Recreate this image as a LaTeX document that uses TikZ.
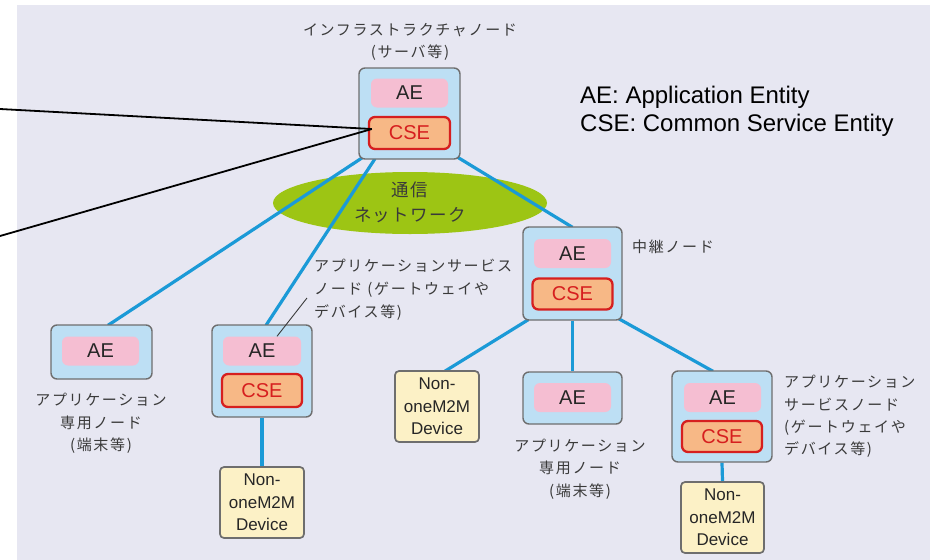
\documentclass[tikz,border=0pt]{standalone}
\usepackage{fontspec}
\setmainfont{Liberation Sans}
\newfontfamily\jp[LetterSpace=11]{Noto Sans CJK JP}
\newfontfamily\jpnet[LetterSpace=8]{Noto Sans CJK JP}
\usetikzlibrary{calc}
\definecolor{bglav}{HTML}{E7E7F2}
\definecolor{boxblue}{HTML}{BDDFF4}
\definecolor{boxgray}{HTML}{6E6E6E}
\definecolor{aepink}{HTML}{F5BED2}
\definecolor{cseorange}{HTML}{F7B886}
\definecolor{csered}{HTML}{D61F1F}
\definecolor{devyellow}{HTML}{FCF1C6}
\definecolor{linkblue}{HTML}{1B9AD7}
\definecolor{netgreen}{HTML}{9DC514}
\definecolor{jpgray}{HTML}{3A3A3A}
\pgfdeclarelayer{back}
\pgfdeclarelayer{wires}
\pgfsetlayers{back,wires,main}
\tikzset{
  nodebox/.style={draw=boxgray, fill=boxblue, line width=1.4pt, rounded corners=6pt, inner sep=0pt},
  aebox/.style={fill=aepink, rounded corners=6pt, inner sep=0pt, minimum width=77pt, minimum height=29pt,
    font=\fontsize{20}{22}\selectfont, text=black!85},
  csebox/.style={draw=csered, fill=cseorange, line width=2.3pt, rounded corners=6pt, inner sep=0pt,
    minimum width=80pt, minimum height=31pt, font=\fontsize{20}{22}\selectfont, text=csered},
  devbox/.style={draw=boxgray, fill=devyellow, line width=1.7pt, rounded corners=4pt, inner sep=0pt,
    minimum width=83pt, minimum height=71pt, align=center, font=\fontsize{17}{22.5}\selectfont, text=black!85},
  link/.style={draw=linkblue, line width=3.2pt},
  jplabel/.style={font=\jp\fontsize{15}{22.5}\selectfont, text=jpgray, inner sep=0pt},
  pointer/.style={draw=black, line width=1.8pt},
}
\begin{document}
\begin{tikzpicture}[x=1pt, y=-1pt]
\useasboundingbox (0,0) rectangle (930,560);
\begin{pgfonlayer}{back}
  \fill[bglav] (17,5) rectangle (930,560);
  \fill[netgreen] (410,203) ellipse [x radius=137, y radius=31];
\end{pgfonlayer}

% infrastructure node
\node[nodebox, minimum width=101pt, minimum height=91pt] (infra) at (409.5,113.5) {};
\node[aebox] (infraAE) at (409.5,93) {AE};
\node[csebox, minimum width=81pt, minimum height=32pt] (infraCSE) at (409.5,133) {CSE};

% relay node
\node[nodebox, minimum width=99pt, minimum height=93pt] (relay) at (572.5,273.5) {};
\node[aebox] (relayAE) at (572.5,253.5) {AE};
\node[csebox] (relayCSE) at (572.5,294) {CSE};

% left application dedicated node
\node[nodebox, minimum width=101pt, minimum height=54pt] (ae1) at (101.5,352) {};
\node[aebox] (ae1AE) at (100.5,351) {AE};

% left gateway node
\node[nodebox, minimum width=100pt, minimum height=92pt] (lgw) at (262,371) {};
\node[aebox, minimum width=78pt] (lgwAE) at (262,351) {AE};
\node[csebox, minimum height=33pt] (lgwCSE) at (262,390.5) {CSE};
\node[devbox, minimum width=84pt] (dev1) at (262,502.5) {Non-\\oneM2M\\Device};

% relay children
\node[devbox, minimum width=84pt] (dev2) at (437,406.5) {Non-\\oneM2M\\Device};
\node[nodebox, minimum width=99pt, minimum height=52pt] (mae) at (572.5,398) {};
\node[aebox] (maeAE) at (572.5,397.5) {AE};
\node[nodebox, minimum width=100pt, minimum height=91pt] (rgw) at (722,416.5) {};
\node[aebox] (rgwAE) at (722.5,397.5) {AE};
\node[csebox] (rgwCSE) at (722,436.5) {CSE};
\node[devbox] (dev3) at (722.5,517.5) {Non-\\oneM2M\\Device};

% connectors
\begin{pgfonlayer}{wires}
  \draw[link] ($(infra.south west)+(4,-2)$) -- ($(ae1.north)+(6.5,1)$);
  \draw[link] ($(infra.south)+(-34.5,-1)$) -- ($(lgw.north)+(4,1)$);
  \draw[link] ($(infra.south east)+(-4,-3)$) -- ($(relay.north)+(0,1)$);
  \draw[link] ($(relay.south west)+(6,-1)$) -- ($(dev2.north)+(8,1)$);
  \draw[link] (relay.south) -- (mae.north);
  \draw[link] ($(relay.south east)+(-4,-2)$) -- ($(rgw.north)+(-9,1)$);
  \draw[link] (rgw.south) -- (dev3.north);
  \draw[link] (lgw.south) -- (dev1.north);
\end{pgfonlayer}

% pointers to infrastructure CSE
\coordinate (pA) at (0,109);
\coordinate (pB) at (0,236);
\coordinate (pEnd) at ($(infraCSE.west)+(4,-4)$);
\draw[pointer] (pA) -- (pEnd);
\draw[pointer] (pB) -- (pEnd);

% leader line for left gateway label
\coordinate (lead) at (307,298);
\draw[draw=jpgray, line width=0.9pt] (lead) -- ($(lgwAE.north)+(15,0)$);

% labels
\node[jplabel, align=center] (infraLbl) at (410,42) {インフラストラクチャノード\\(サーバ等)};
\node[jplabel, anchor=west] (relayLbl) at (632,247) {中継ノード};
\node[jplabel, anchor=west, align=left, font=\jp\fontsize{15}{23}\selectfont] (lgwLbl) at (314,290)
  {アプリケーションサービス\\ノード (ゲートウェイや\\デバイス等)};
\node[jplabel, anchor=west, align=left, font=\jp\fontsize{15}{22.3}\selectfont] (rgwLbl) at (784,416.5)
  {アプリケーション\\サービスノード\\(ゲートウェイや\\デバイス等)};
\node[jplabel, align=center] (ae1Lbl) at (101,423.5) {アプリケーション\\専用ノード\\(端末等)};
\node[jplabel, align=center] (maeLbl) at (580,469) {アプリケーション\\専用ノード\\(端末等)};
\node[inner sep=0pt, align=center, font=\jpnet\fontsize{17.5}{25}\selectfont, text=jpgray] (netLbl) at (410,202.5) {通信\\ネットワーク};

% legend
\node[inner sep=0pt, anchor=west, align=left, font=\fontsize{24}{28}\selectfont] (legend) at (580,111)
  {AE: Application Entity\\CSE: Common Service Entity};
\end{tikzpicture}
\end{document}
